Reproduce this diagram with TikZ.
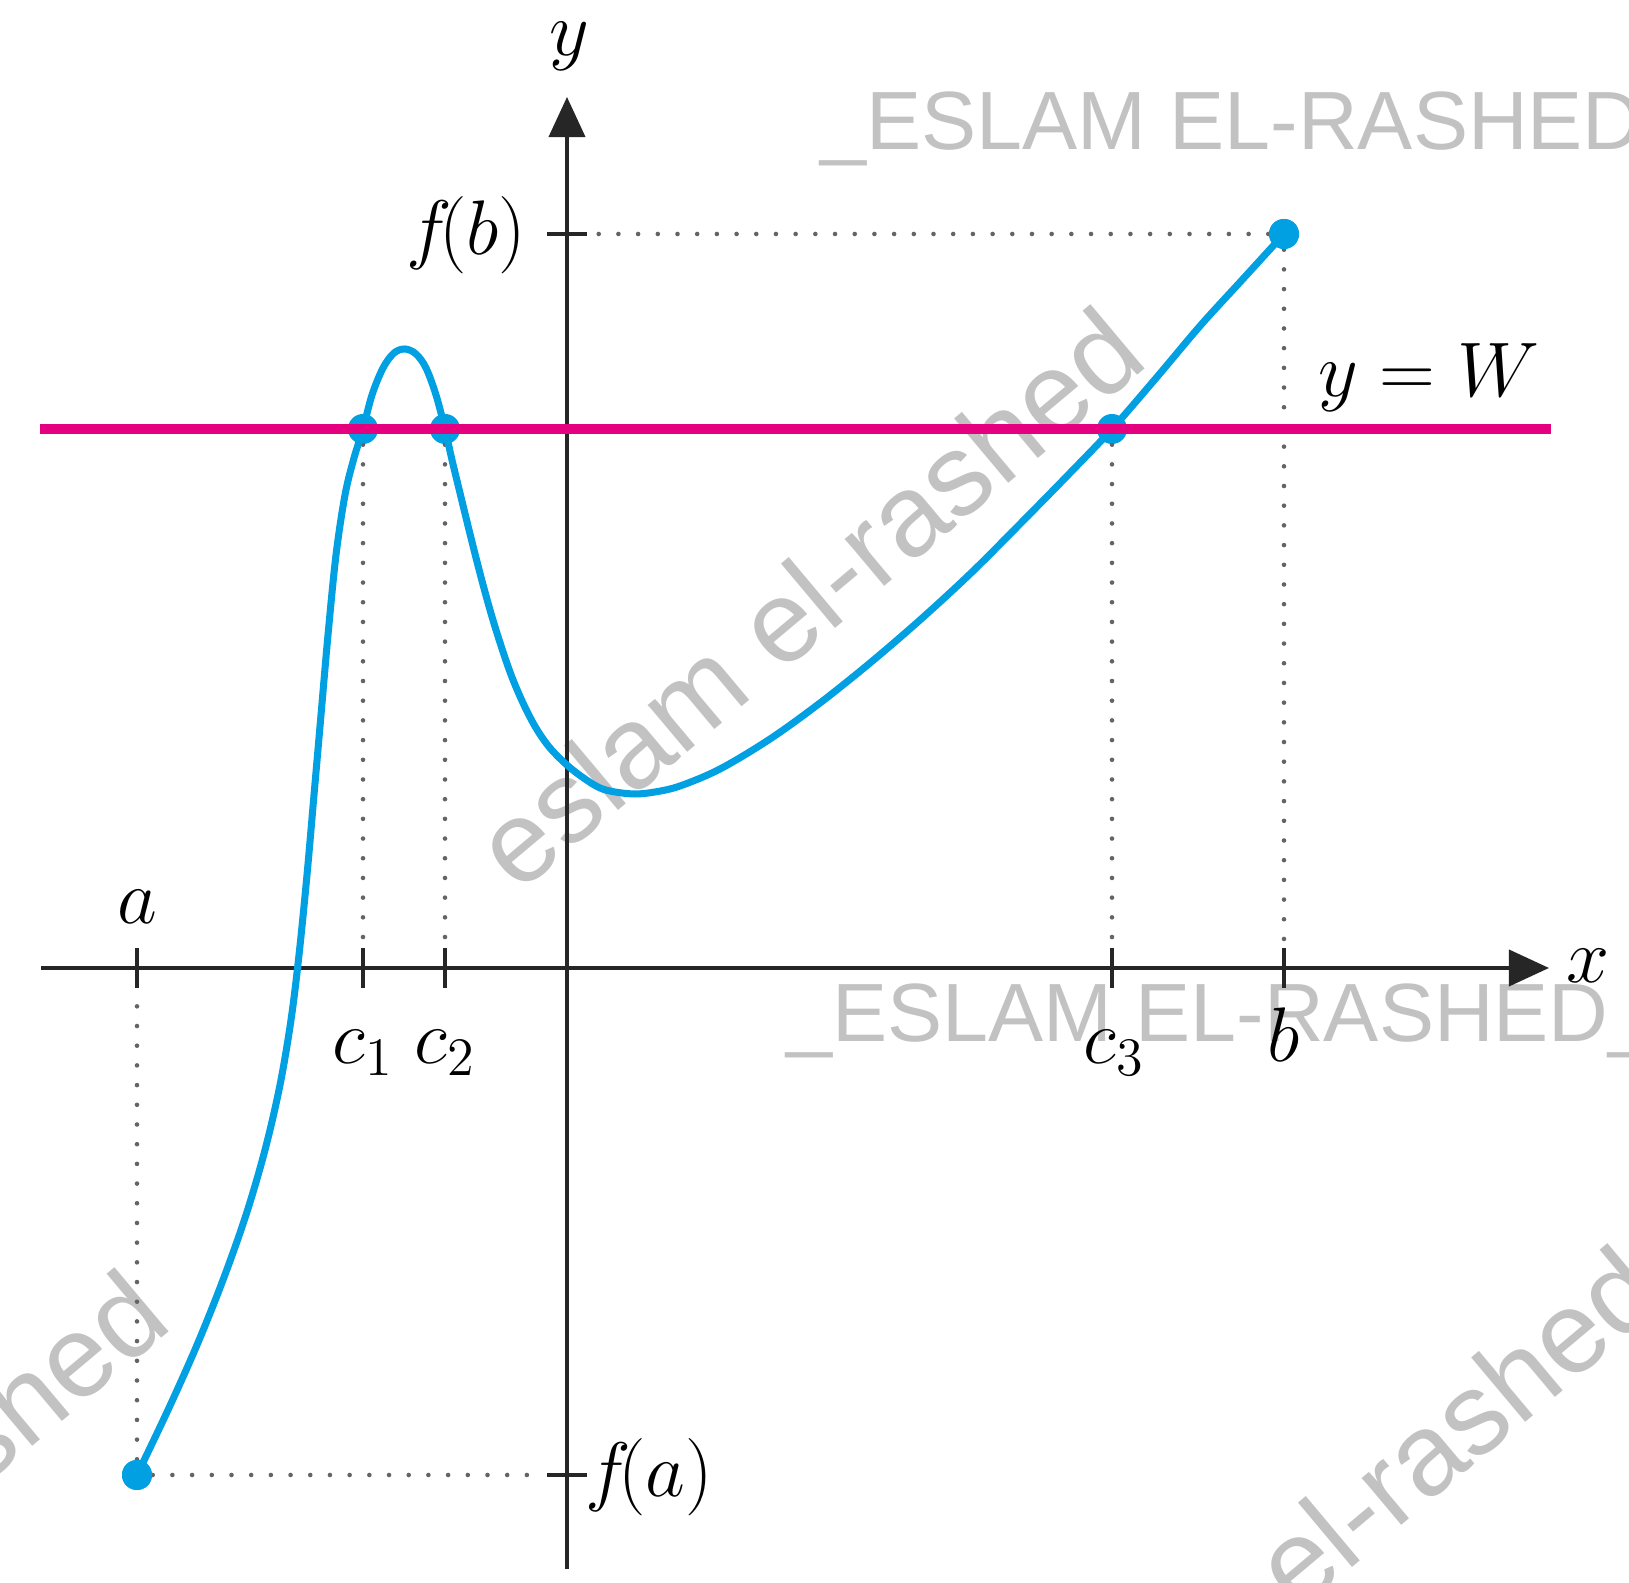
\RequirePackage{fix-cm}
\documentclass[tikz,border=0pt]{standalone}
\usepackage{fontspec}
\newfontfamily\wmfont{Liberation Sans}
\usetikzlibrary{arrows.meta,calc}
\definecolor{curvecol}{RGB}{0,160,226}
\definecolor{wcol}{RGB}{228,0,127}
\definecolor{wmgray}{RGB}{194,194,194}
\definecolor{dotgray}{RGB}{100,100,100}
\begin{document}
\begin{tikzpicture}[x=0.01cm,y=-0.01cm,
  axis/.style={line width=1.1pt, black!85},
  tickmark/.style={line width=1.1pt, black!85},
  guide/.style={dotgray, line width=1.3pt, line cap=round, dash pattern=on 0pt off 5.6pt},
  fcurve/.style={curvecol, line width=2pt, line join=round},
  wline/.style={wcol, line width=2.6pt},
  pt/.style={circle, fill=curvecol, inner sep=0pt, minimum size=0.3cm},
  lab/.style={font=\fontsize{22}{26}\selectfont, inner sep=0pt},
  wm/.style={wmgray, font=\wmfont\fontsize{23.5}{28}\selectfont, inner sep=0pt},
  wmd/.style={wmgray, font=\wmfont\fontsize{33}{40}\selectfont, inner sep=0pt, rotate=40},
]
\useasboundingbox (0,0) rectangle (1629,1583);
\fill[white] (0,0) rectangle (1629,1583);

% watermarks
\node[wm, anchor=base west] (wm1) at (820,150) {\_ESLAM EL-RASHED\_};
\node[wm, anchor=base west] (wm2) at (786,1042) {\_ESLAM EL-RASHED\_};
\node[wmd] (wm3) at (808,597) {eslam el-rashed};
\node[wmd] (wm4) at (-168,1560) {eslam el-rashed};
\node[wmd] (wm5) at (1325,1536) {eslam el-rashed};

% axis reference coordinates
\coordinate (xl) at (41,968);
\coordinate (xr) at (1549,968);
\coordinate (yb) at (567,1569);
\coordinate (yt) at (567,97);
\coordinate (ta) at (137,968);
\coordinate (t1) at (363,968);
\coordinate (t2) at (445,968);
\coordinate (t3) at (1112,968);
\coordinate (tb) at (1284,968);
\coordinate (tfb) at (567,234);
\coordinate (tfa) at (567,1475);

% points
\node[pt] (pa) at (137,1475) {};
\node[pt] (pb) at (1284,234) {};
\node[pt] (p1) at (363,429) {};
\node[pt] (p2) at (445,429) {};
\node[pt] (p3) at (1112,429) {};

% guides
\draw[guide] (pa) -- ($(ta)+(0,22)$);
\draw[guide] (pa) -- ($(tfa)+(-22,0)$);
\draw[guide] (pb) -- ($(tfb)+(22,0)$);
\draw[guide] (pb) -- ($(tb)+(0,-22)$);
\draw[guide] (p1) -- ($(t1)+(0,-22)$);
\draw[guide] (p2) -- ($(t2)+(0,-22)$);
\draw[guide] (p3) -- ($(t3)+(0,-22)$);

% axes
\draw[axis, -{Triangle[length=0.4cm,width=0.36cm]}] (xl) -- (xr);
\draw[axis, -{Triangle[length=0.4cm,width=0.36cm]}] (yb) -- (yt);
\foreach \t in {ta,t1,t2,t3,tb}{
  \draw[tickmark] ($(\t)+(0,-20)$) -- ($(\t)+(0,20)$);
}
\foreach \t in {tfa,tfb}{
  \draw[tickmark] ($(\t)+(-20,0)$) -- ($(\t)+(20,0)$);
}

% curve
\draw[fcurve] plot[smooth, tension=0.55] coordinates {
  (137,1475) (168,1410) (197,1345) (223,1280) (246,1215) (265,1150)
  (280,1085) (291,1020) (299,955) (307,875) (314,795) (321,715)
  (328,635) (336,555) (345,495) (354,458)
  (363,429) (372,395) (383,368) (394,353) (405,349) (416,354) (426,368)
  (436,395) (445,429) (452,460) (460,493) (473,546) (485,592) (496,630)
  (510,672) (523,703) (536,728) (550,748) (568,766) (585,779) (600,788)
  (615,792) (635,794) (655,792) (680,786) (720,769) (770,739) (820,703)
  (870,663) (920,620) (970,574) (1020,524) (1070,473) (1112,429)
  (1157,377) (1200,326) (1242,280) (1284,234)};

% points over curve
\fill[curvecol] (pa) circle[radius=15];
\fill[curvecol] (pb) circle[radius=15];
\fill[curvecol] (p1) circle[radius=14];
\fill[curvecol] (p2) circle[radius=14];
\fill[curvecol] (p3) circle[radius=14];

% line y = W
\coordinate (wl) at (40,429);
\coordinate (wr) at (1551,429);
\draw[wline] (wl) -- (wr);

% labels
\node[lab] (ly) at (569,46) {$y$};
\node[lab] (lx) at (1588,966) {$x$};
\node[lab, anchor=base] (la) at (137,924) {$a$};
\node[lab, anchor=base] (lc1) at (363,1064) {$c_1$};
\node[lab, anchor=base] (lc2) at (445,1064) {$c_2$};
\node[lab, anchor=base] (lc3) at (1114,1064) {$c_3$};
\node[lab, anchor=base] (lb) at (1284,1062) {$b$};
\node[lab, anchor=east] (lfb) at (527,235) {$f\!(b)$};
\node[lab, anchor=west] (lfa) at (585,1477) {$f\!(a)$};
\node[lab, anchor=base west] (lw) at (1318,397) {$y=W$};
\end{tikzpicture}
\end{document}
